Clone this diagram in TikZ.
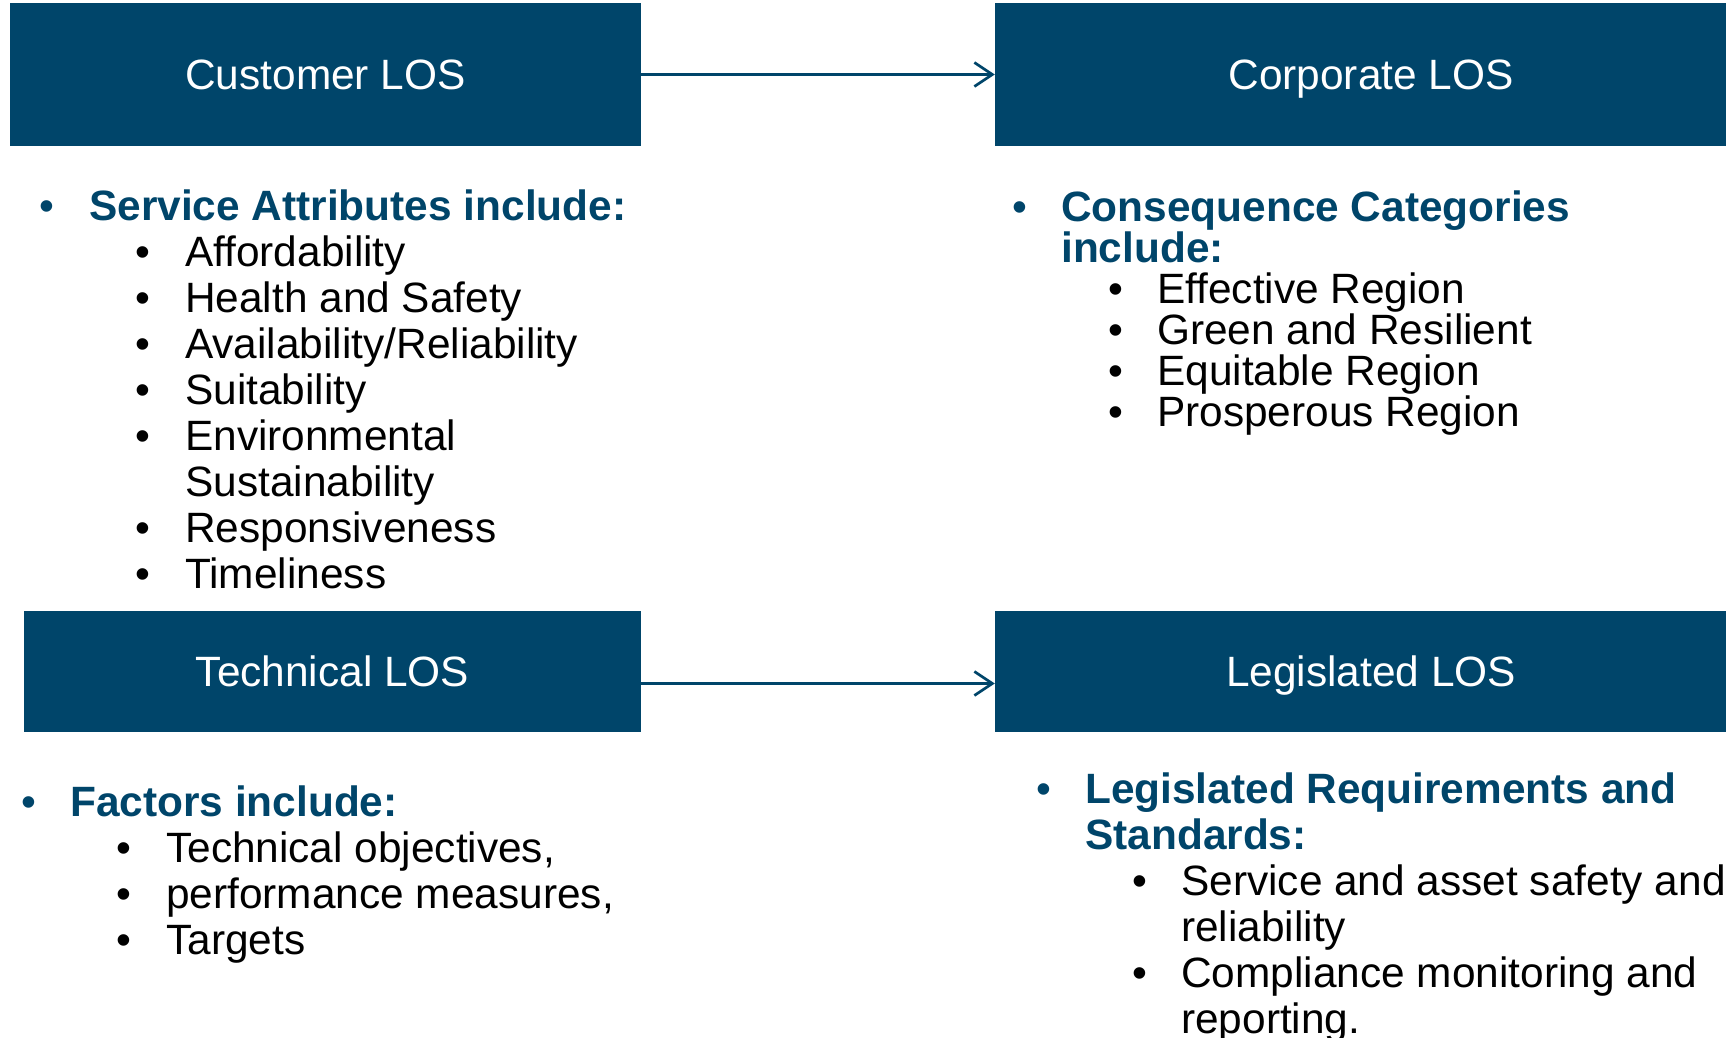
\documentclass[tikz,border=0pt]{standalone}
\usepackage{fontspec}
\setmainfont{Liberation Sans}
\usetikzlibrary{arrows.meta}
\definecolor{losblue}{RGB}{0,69,106}

\begin{document}
\begin{tikzpicture}
  [x=1pt,y=-1pt,
   every node/.style={inner sep=0pt,font=\fontsize{42.4}{46}\selectfont},
   losbox/.style={fill=losblue,text=white,text height=30pt,text depth=0pt},
   head/.style={anchor=base west,text=losblue,font=\fontsize{42.4}{46}\selectfont\bfseries},
   item/.style={anchor=base west},
   dot/.style={anchor=base},
   link/.style={draw=losblue,line width=2.7pt,-{Straight Barb[length=18pt,width=24pt]}}]
  \useasboundingbox (0,0) rectangle (1726,1038);
  \clip (0,0) rectangle (1726,1038);

  % the four LOS boxes
  \node[losbox,minimum width=631pt,minimum height=143pt] (cust) at (325.5,74.5) {Customer LOS};
  \node[losbox,minimum width=752pt,minimum height=143pt] (corp) at (1371,74.5) {Corporate LOS};
  \node[losbox,minimum width=617pt,minimum height=121pt] (tech) at (332.5,671.5) {Technical LOS};
  \node[losbox,minimum width=752pt,minimum height=121pt] (legis) at (1371,671.5) {Legislated LOS};

  \draw[link] (cust) -- (corp);
  \draw[link] ([yshift=-12pt]tech.east) -- ([yshift=-12pt]legis.west);

  % customer
  \node[dot,text=losblue] (cdot) at (47,220) {•};
  \node[head] (chead) at (89,220) {Service Attributes include:};
  \foreach \txt [count=\i] in {Affordability,Health and Safety,{Availability/Reliability},Suitability,Environmental,Sustainability,Responsiveness,Timeliness}
    \node[item] (c\i) at (185,220+46*\i) {\txt};
  \foreach \i in {1,2,3,4,5,7,8}
    \node[dot] (cb\i) at (143,220+46*\i) {•};

  % corporate
  \node[dot,text=losblue] (kdot) at (1020,221) {•};
  \node[head] (khead1) at (1061,221) {Consequence Categories};
  \node[head] (khead2) at (1061,262) {include:};
  \foreach \txt [count=\i] in {Effective Region,Green and Resilient,Equitable Region,Prosperous Region}
  {
    \node[item] (k\i) at (1157,262+41*\i) {\txt};
    \node[dot] (kb\i) at (1116,262+41*\i) {•};
  }

  % technical
  \node[dot,text=losblue] (tdot) at (29,816) {•};
  \node[head] (thead) at (70,816) {Factors include:};
  \foreach \txt [count=\i] in {{Technical objectives,},{performance measures,},Targets}
  {
    \node[item] (t\i) at (166,816+46*\i) {\txt};
    \node[dot] (tb\i) at (124,816+46*\i) {•};
  }

  % legislated
  \node[dot,text=losblue] (ldot) at (1044,803) {•};
  \node[head] (lhead1) at (1085,803) {Legislated Requirements and};
  \node[head] (lhead2) at (1085,849) {Standards:};
  \foreach \txt [count=\i] in {Service and asset safety and,reliability,Compliance monitoring and,reporting.}
    \node[item] (l\i) at (1181,849+46*\i) {\txt};
  \foreach \i in {1,3}
    \node[dot] (lb\i) at (1140,849+46*\i) {•};
\end{tikzpicture}
\end{document}
